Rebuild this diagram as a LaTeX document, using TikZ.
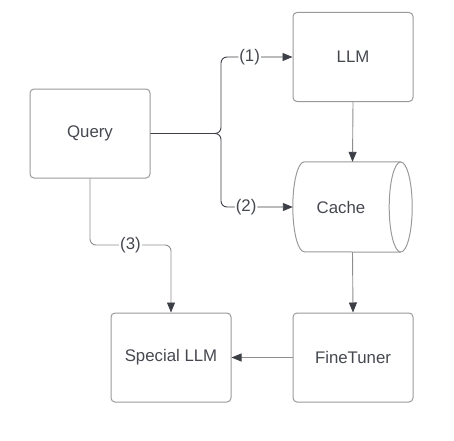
\documentclass[tikz,border=0pt]{standalone}
\usepackage{fontspec}
\setmainfont{Liberation Sans}
\usetikzlibrary{arrows.meta,calc}
\definecolor{boxgray}{HTML}{9A9A9A}
\definecolor{txtgray}{HTML}{45484F}
\definecolor{wiredark}{HTML}{3C3F45}
\definecolor{wiregray}{HTML}{8E8E8E}
\newcommand{\labfont}{\fontsize{16.8}{19}\selectfont}

\begin{document}
\begin{tikzpicture}[x=1pt,y=1pt,
    block/.style={draw=boxgray,line width=1pt,rounded corners=4pt,minimum width=120pt,minimum height=89pt,inner sep=0pt,text=txtgray,font=\labfont},
    store/.style={minimum width=119pt,minimum height=90pt,inner sep=0pt,text=txtgray,font=\labfont},
    rim/.style={draw=boxgray,line width=1pt},
    wire/.style={draw=wiregray,line width=0.9pt,-{Triangle[length=10pt,width=8pt,color=wiredark]}},
    lbl/.style={fill=white,inner sep=1pt,text=txtgray,font=\labfont}]
        \useasboundingbox (0,0) rectangle (454,440);

        % Blocks
        \node[block] (query) at (90, 306.5) {Query};
        \node[block] (llm) at (353, 383) {LLM};
        \node[store] (cache) at (352.5, 233) {Cache\kern23pt};
        \node[block] (special) at (171, 82.5) {Special LLM};
        \node[block] (tuner) at (353, 82.5) {FineTuner};

        % Cache outline
        \draw[rim] ($(cache.north east)+(-11.5,0)$) -- ($(cache.north west)+(11.5,0)$)
            arc[start angle=90,end angle=270,x radius=11.5,y radius=45] -- ($(cache.south east)+(-11.5,0)$);
        \draw[rim] ($(cache.east)+(-11.5,0)$) ellipse[x radius=11.5,y radius=45];

        % Bends
        \coordinate (split) at (221, 306.5);
        \coordinate (bend3) at (0, 195);

        % Arcs
        \draw[wire,draw=wiredark] (query.east) -- ($(split)+(-6,0)$) to[out=0,in=-90] ($(split)+(0,6)$)
            [rounded corners=6pt] |- node[lbl,pos=0.7] {(1)} (llm.west);
        \draw[wire,draw=wiredark] (query.east) -- ($(split)+(-6,0)$) to[out=0,in=90] ($(split)+(0,-6)$)
            [rounded corners=6pt] |- node[lbl,pos=0.675] {(2)} (cache.west);
        \draw[wire,rounded corners=6pt] (query.south) -- (query.south |- bend3)
            -- node[lbl] {(3)} (special.north |- bend3) -- (special.north);
        \draw[wire] (llm.south) -- (cache.north);
        \draw[wire] (cache.south) -- (tuner.north);
        \draw[wire] (tuner.west) -- (special.east);
\end{tikzpicture}
\end{document}
